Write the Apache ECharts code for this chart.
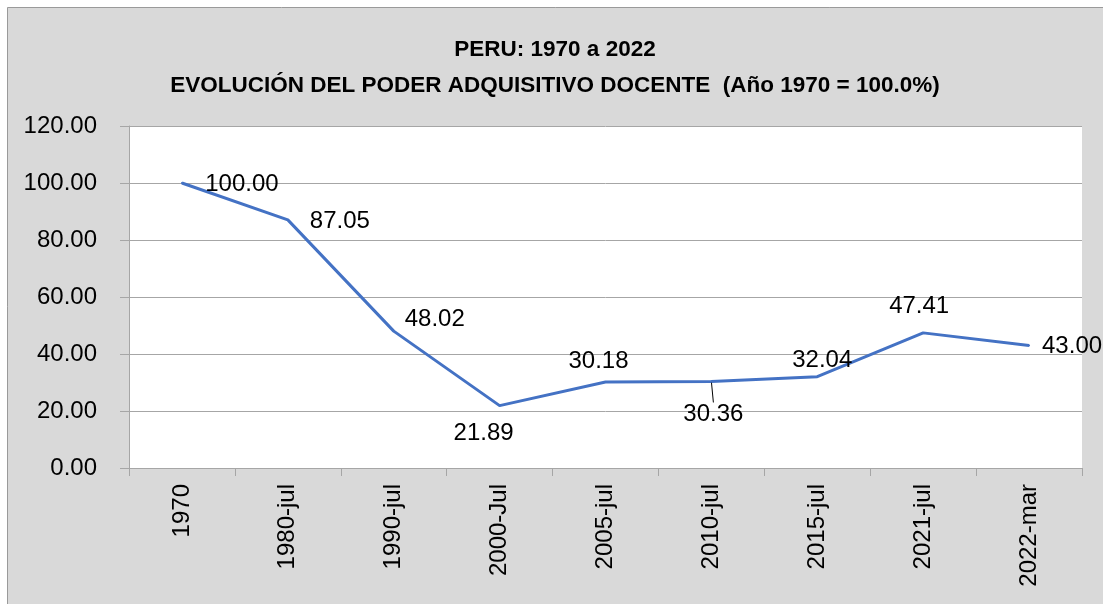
<!DOCTYPE html>
<html>
<head>
<meta charset="utf-8">
<script src="https://cdn.jsdelivr.net/npm/echarts@6/dist/echarts.min.js"></script>
<style>
  html, body { margin: 0; padding: 0; background: #ffffff; }
  #chart-container { width: 1103px; height: 604px; }
</style>
</head>
<body>
<div id="chart-container"></div>
<script>
var categorias = ['1970', '1980-jul', '1990-jul', '2000-Jul', '2005-jul', '2010-jul', '2015-jul', '2021-jul', '2022-mar'];
var poderAdquisitivo = [100.00, 87.05, 48.02, 21.89, 30.18, 30.36, 32.04, 47.41, 43.00];
var ticksY = [0, 20, 40, 60, 80, 100, 120];

// desplazamiento de cada etiqueta respecto a su punto (como en el grafico original)
var offsetEtiquetas = [[60, 1], [52, 1], [41, -12], [-16, 28], [-7, -21], [2, 33], [5, -16], [-4, -27], [43, 1]];

var dom = document.getElementById('chart-container');
var myChart = echarts.init(dom, null, { renderer: 'canvas' });

var fuente = 'Liberation Sans';

var option = {
  backgroundColor: '#ffffff',
  animation: false,
  graphic: [
    {
      type: 'rect',
      z: -10,
      shape: { x: 7.5, y: 7.5, width: 1100, height: 600 },
      style: { fill: '#d9d9d9', stroke: '#9a9a9a', lineWidth: 1 }
    }
  ],
  title: {
    text: 'PERU: 1970 a 2022\nEVOLUCIÓN DEL PODER ADQUISITIVO DOCENTE  (Año 1970 = 100.0%)',
    left: 550,
    textAlign: 'center',
    top: 27,
    textStyle: {
      fontFamily: fuente,
      fontSize: 22.5,
      fontWeight: 'bold',
      color: '#000000',
      lineHeight: 36
    }
  },
  grid: {
    left: 129,
    right: 21,
    top: 126,
    bottom: 136,
    show: true,
    backgroundColor: '#ffffff',
    borderWidth: 0
  },
  xAxis: {
    type: 'category',
    data: categorias,
    boundaryGap: true,
    axisLine: { lineStyle: { color: '#a6a6a6', width: 1 } },
    axisTick: { show: true, length: 8, lineStyle: { color: '#a6a6a6' } },
    axisLabel: {
      interval: 0,
      rotate: 90,
      margin: 16,
      fontFamily: fuente,
      fontSize: 24,
      color: '#000000'
    }
  },
  yAxis: {
    type: 'value',
    min: ticksY[0],
    max: ticksY[ticksY.length - 1],
    interval: 20,
    axisLine: { show: true, lineStyle: { color: '#a6a6a6', width: 1 } },
    axisTick: { show: true, length: 9, lineStyle: { color: '#a6a6a6' } },
    splitLine: { lineStyle: { color: '#a6a6a6', width: 1 } },
    axisLabel: {
      margin: 32,
      fontFamily: fuente,
      fontSize: 24,
      color: '#000000',
      formatter: function (v) { return v.toFixed(2); }
    }
  },
  series: [
    {
      type: 'line',
      data: poderAdquisitivo.map(function (v, i) {
        var item = { value: v };
        if (i === 5) {
          item.labelLine = { show: true };
        }
        return item;
      }),
      symbol: 'circle',
      symbolSize: 2,
      showSymbol: true,
      lineStyle: { color: '#4472c4', width: 3 },
      itemStyle: { color: '#4472c4' },
      label: {
        show: true,
        position: 'inside',
        fontFamily: fuente,
        fontSize: 24,
        color: '#000000',
        formatter: function (p) { return p.value.toFixed(2); }
      },
      labelLine: {
        show: false,
        lineStyle: { color: '#000000', width: 1 }
      },
      labelLayout: function (params) {
        var off = offsetEtiquetas[params.dataIndex];
        return { dx: off[0], dy: off[1] };
      }
    }
  ]
};

myChart.setOption(option);
window.addEventListener('resize', myChart.resize);
</script>
</body>
</html>
